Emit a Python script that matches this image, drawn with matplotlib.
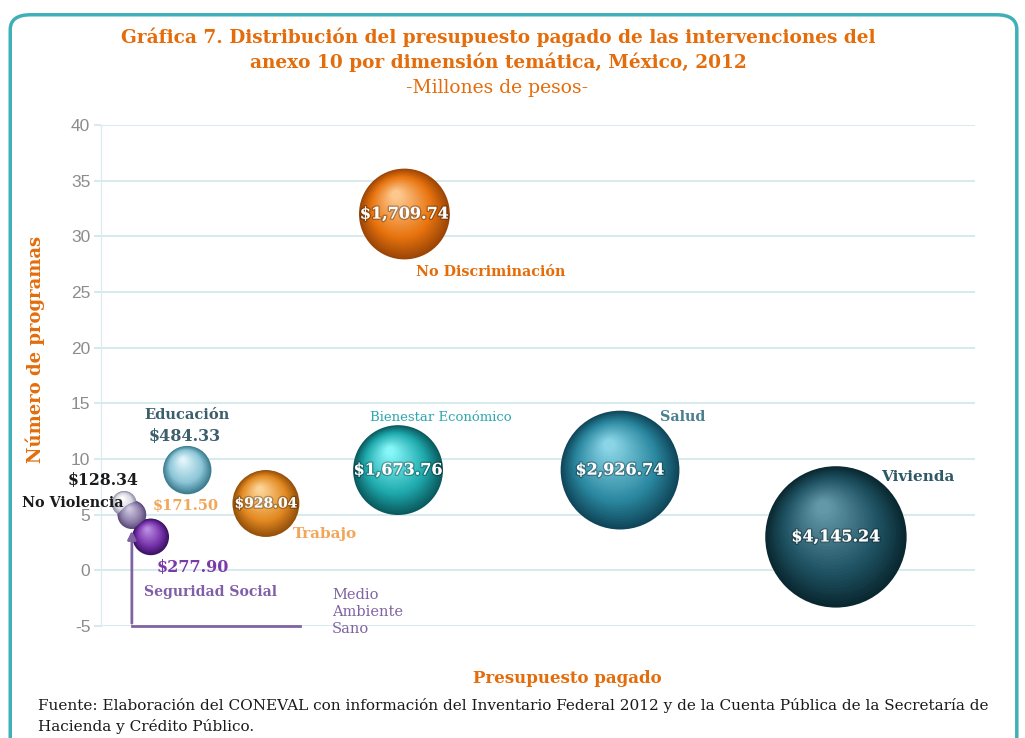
import matplotlib
matplotlib.use("Agg")
import matplotlib.pyplot as plt
import matplotlib.patheffects as pe
from matplotlib.patches import FancyBboxPatch
from matplotlib.transforms import offset_copy
from matplotlib.colors import to_rgb
import numpy as np

plt.rcParams['axes.unicode_minus'] = False

# data
categorias = ['No Discriminación', 'Medio Ambiente Sano', 'No Violencia', 'Seguridad Social',
              'Educación', 'Trabajo', 'Bienestar Económico', 'Salud', 'Vivienda']
presupuesto = [1709.74, 171.50, 128.34, 277.90, 484.33, 928.04, 1673.76, 2926.74, 4145.24]
programas = [32, 5, 6, 3, 9, 6, 9, 9, 3]
etiquetas_monto = ['$1,709.74', '$171.50', '$128.34', '$277.90', '$484.33', '$928.04',
                   '$1,673.76', '$2,926.74', '$4,145.24']

# (borde, medio, brillo) for each bubble
colores = [('#9c4606', '#e8730e', '#fdc88e'),
           ('#5a4a78', '#8e80aa', '#cfc8e0'),
           ('#8f8ca0', '#d8d8e2', '#ffffff'),
           ('#3a1262', '#7632aa', '#b98ae0'),
           ('#3b7b8e', '#8cc6d8', '#e0f4fa'),
           ('#95500a', '#e38a22', '#fcd394'),
           ('#0a5a5e', '#1ea9ad', '#86f6f8'),
           ('#10465a', '#2a88a0', '#8ad4e6'),
           ('#0a2830', '#1e5262', '#6298a8')]

ORANGE = '#e46c0a'
SERIF = 'DejaVu Serif'

fig = plt.figure(figsize=(10.25, 7.38), dpi=100)
fig.patch.set_facecolor('white')
ax = fig.add_axes([0.0990, 0.1518, 0.8522, 0.6789])

escala = 2.5  # points^2 per million


def mix(c1, c2, t):
    a = np.array(to_rgb(c1))
    b = np.array(to_rgb(c2))
    return tuple(a + (b - a) * t)


n_capas = 30
for x, y, (c_dark, c_mid, c_light) in zip(presupuesto, programas, colores):
    s = x * escala
    r = np.sqrt(s) / 2  # radius in points
    for i in range(n_capas):
        t = i / (n_capas - 1)
        factor = 1 - 0.9 * t
        if t < 0.35:
            col = mix(c_dark, c_mid, t / 0.35)
        else:
            col = mix(c_mid, c_light, (t - 0.35) / 0.65)
        tr = offset_copy(ax.transData, fig=fig, x=-0.18 * r * t, y=0.42 * r * t, units='points')
        ax.scatter([x], [y], s=s * factor ** 2, color=col, transform=tr,
                   edgecolors='none', zorder=3 + i * 0.001, clip_on=False)

# bubble value labels inside
sombra = [pe.withStroke(linewidth=2, foreground='#00000044')]
for k in [0, 5, 6, 7, 8]:
    fs = 10 if k == 5 else 11.5
    ax.annotate(etiquetas_monto[k], (presupuesto[k], programas[k]), ha='center', va='center',
                fontsize=fs, fontweight='bold', color='white', family=SERIF, zorder=10,
                path_effects=sombra)


def lbl(k, texto, dx, dy, color, fs, weight='bold', ha='center'):
    ax.annotate(texto, (presupuesto[k], programas[k]), xytext=(dx, dy), textcoords='offset points',
                ha=ha, va='center', fontsize=fs, fontweight=weight, color=color, family=SERIF,
                zorder=10)


lbl(0, 'No Discriminación', 62, -42, ORANGE, 10.3)
lbl(4, 'Educación', 0, 39.5, '#3b5f6b', 10.5)
lbl(4, '$484.33', -2, 24, '#3b5f6b', 11.5)
lbl(2, '$128.34', -15, 16.5, '#1a1a1a', 11.3)
lbl(2, 'No Violencia', -37, 0, '#1a1a1a', 10.3)
lbl(1, '$171.50', 39, 6.5, '#f2a65a', 10.5)
lbl(5, 'Trabajo', 42.5, -22, '#f2a65a', 11)
lbl(3, '$277.90', 30, -22, '#7a3aa8', 11.5)
lbl(3, 'Seguridad Social', 43, -40, '#7f5fa8', 10.1)
lbl(6, 'Bienestar Económico', 31, 38, '#2fa8b0', 9.5, weight='normal')
lbl(7, 'Salud', 45, 38, '#4a7f8f', 10.3)
lbl(8, 'Vivienda', 59, 43, '#2e5866', 11)

# callout for Medio Ambiente Sano
ymin = -5
x_ma, y_ma = presupuesto[1], programas[1]
ax.plot([x_ma, 1120], [ymin, ymin], color='#8064a2', lw=2, zorder=4, clip_on=False)
ax.annotate('', xy=(x_ma, y_ma - 1.2), xytext=(x_ma, ymin),
            arrowprops=dict(arrowstyle='-|>', color='#8064a2', lw=2, mutation_scale=12), zorder=4)
ax.annotate('Medio\nAmbiente\nSano', (1120, ymin), xytext=(23, 10), textcoords='offset points',
            ha='left', va='center', fontsize=10.5, color='#8064a2', family=SERIF,
            linespacing=1.3, zorder=10)

ax.set_xlim(0, 4930)
ax.set_ylim(-5, 40)
ax.set_yticks(range(-5, 41, 5))
ax.set_xticks([])
ax.grid(axis='y', color='#cfe6ea', lw=1.2)
ax.set_axisbelow(True)
for sp in ax.spines.values():
    sp.set_visible(False)
ax.spines['left'].set_visible(True)
ax.spines['left'].set_color('#d6ecee')
ax.tick_params(axis='y', length=5, width=1.2, color='#cfe6ea', pad=3,
               labelcolor='#8c8c8c', labelsize=12.5)
for t in ax.get_yticklabels():
    t.set_family('Liberation Sans')

# titles and texts
fig.text(0.486, 0.950, 'Gráfica 7. Distribución del presupuesto pagado de las intervenciones del',
         ha='center', va='center', fontsize=13.3, fontweight='bold', color=ORANGE, family=SERIF)
fig.text(0.486, 0.916, 'anexo 10 por dimensión temática, México, 2012',
         ha='center', va='center', fontsize=13.3, fontweight='bold', color=ORANGE, family=SERIF)
fig.text(0.485, 0.881, '-Millones de pesos-', ha='center', va='center', fontsize=13.5,
         color=ORANGE, family=SERIF)
fig.text(0.034, 0.526, 'Número de programas', rotation=90, ha='center', va='center',
         fontsize=13, fontweight='bold', color=ORANGE, family=SERIF)
fig.text(0.553, 0.081, 'Presupuesto pagado', ha='center', va='center', fontsize=12,
         fontweight='bold', color=ORANGE, family=SERIF)
fig.text(0.037, 0.044, 'Fuente: Elaboración del CONEVAL con información del Inventario Federal 2012 y de la Cuenta Pública de la Secretaría de',
         ha='left', va='center', fontsize=11, color='#1a1a1a', family=SERIF)
fig.text(0.037, 0.015, 'Hacienda y Crédito Público.', ha='left', va='center', fontsize=11,
         color='#1a1a1a', family=SERIF)

borde = FancyBboxPatch((0.010, -0.02), 0.982, 1.0, boxstyle='round,pad=0,rounding_size=0.02',
                       transform=fig.transFigure, facecolor='none', edgecolor='#3fb0b8', lw=2.5,
                       clip_on=False)
fig.patches.append(borde)

fig.savefig('out.png', dpi=100)
